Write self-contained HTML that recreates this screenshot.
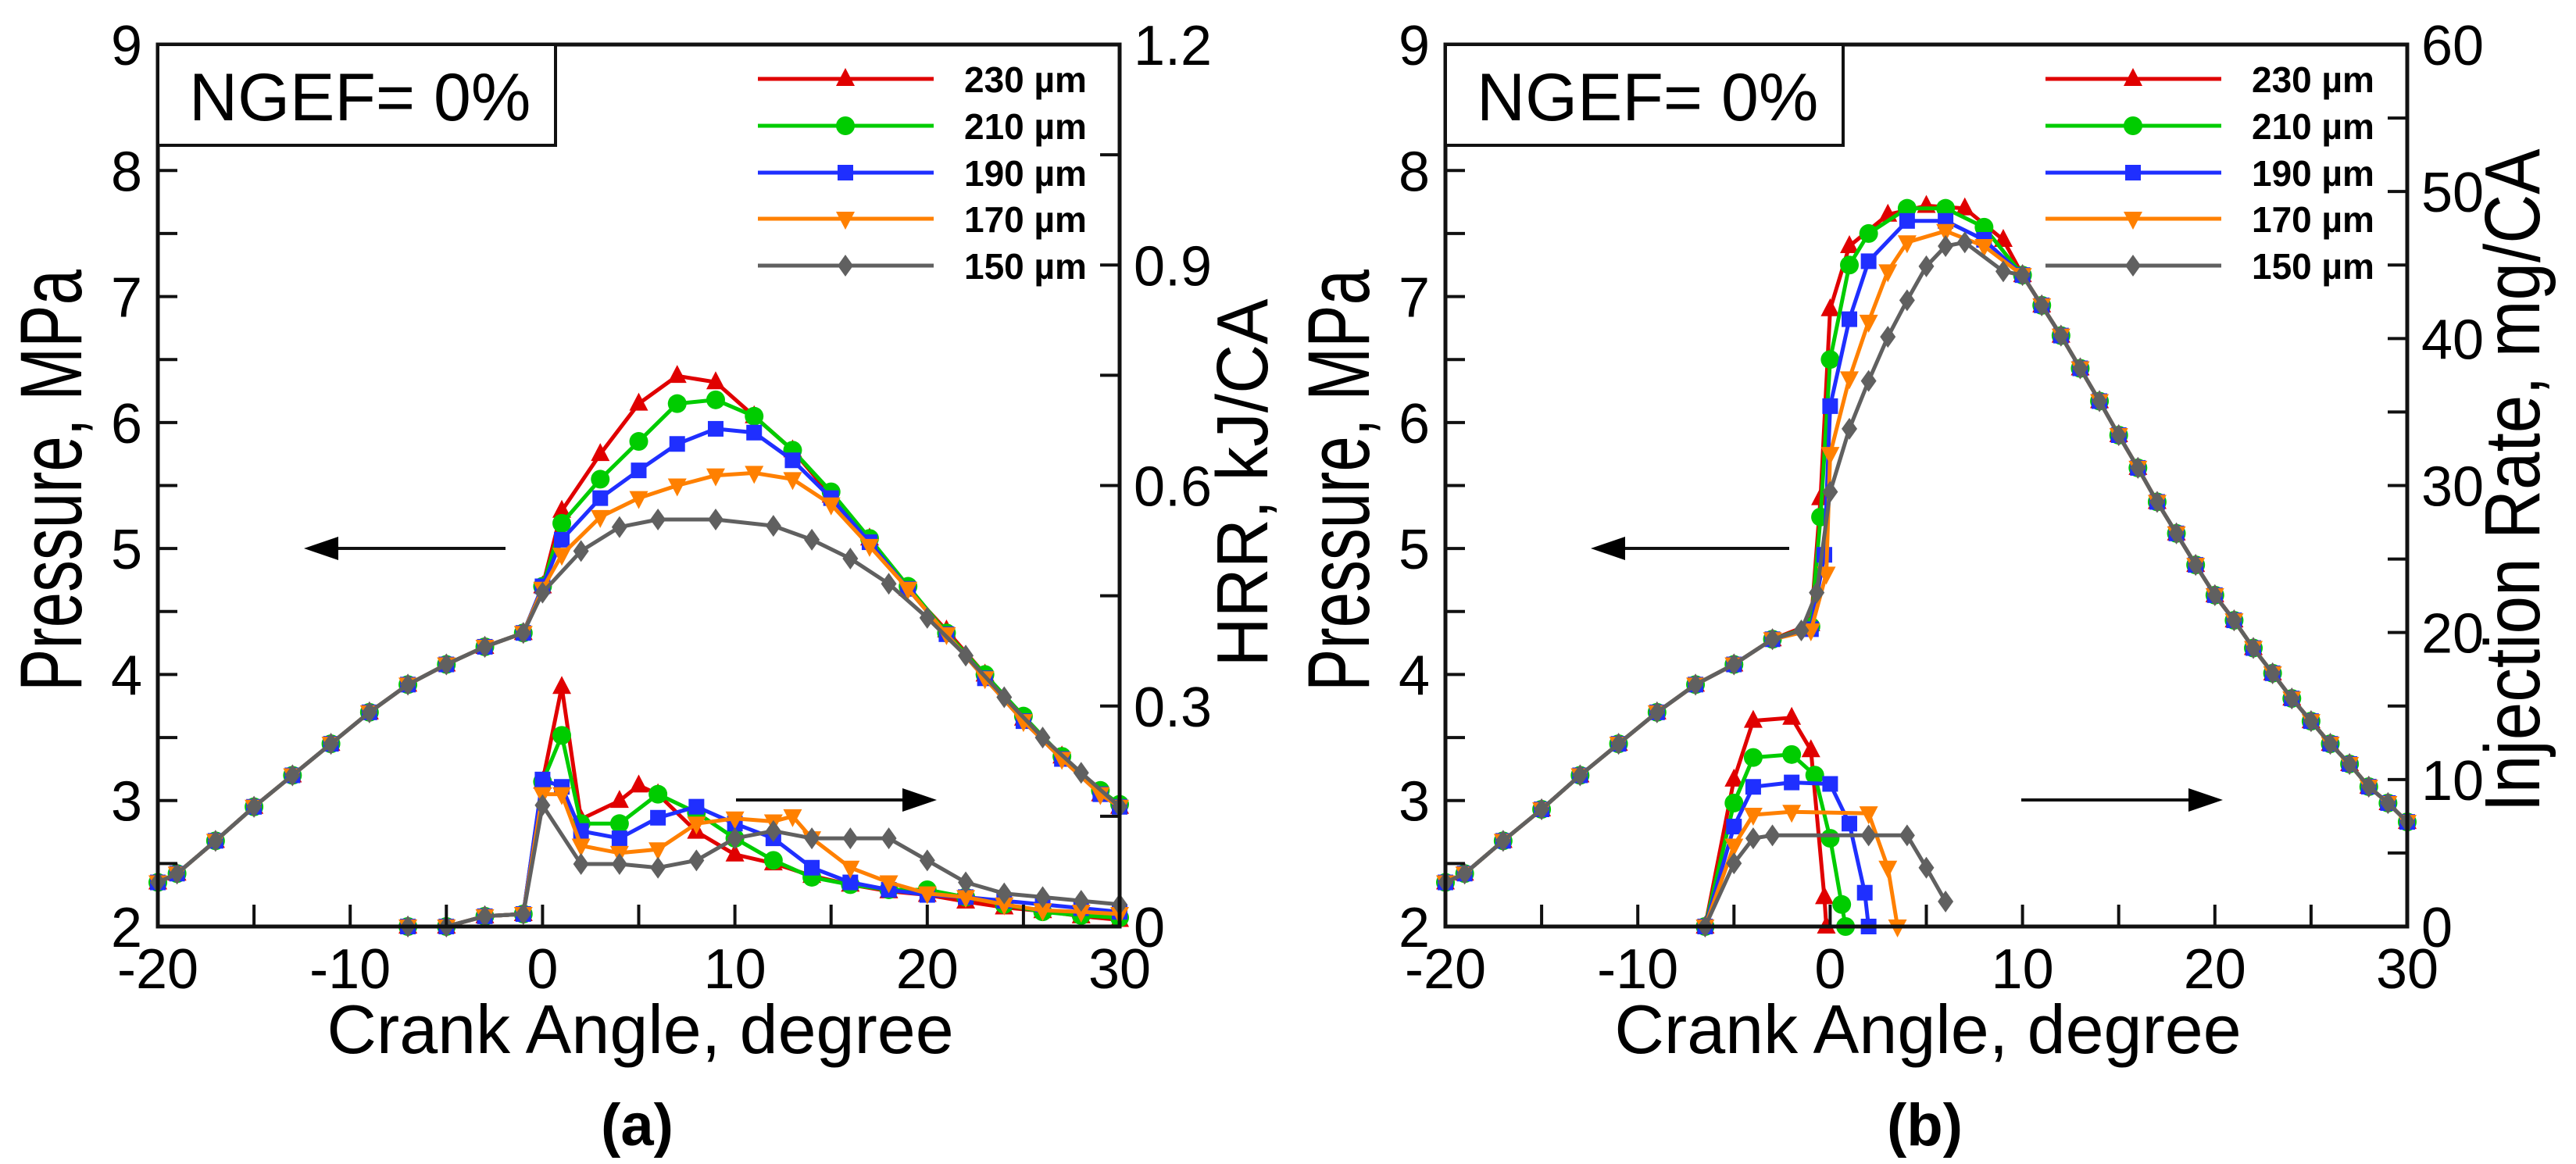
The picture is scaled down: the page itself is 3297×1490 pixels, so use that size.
<!DOCTYPE html>
<html><head><meta charset="utf-8"><style>
html,body{margin:0;padding:0;background:#fff;}
svg{display:block;font-family:"Liberation Sans",Arial,sans-serif;}
</style></head><body>
<svg id="fig" width="3297" height="1490" viewBox="0 0 3297 1490" xmlns="http://www.w3.org/2000/svg"></svg>
<script>
const xTicks=[-20,-10,0,10,20,30];
const pTicks=[2,3,4,5,6,7,8,9];
const hrrTicks=[0,0.3,0.6,0.9,1.2];
const injTicks=[0,10,20,30,40,50,60];
const seriesNames=["230 µm","210 µm","190 µm","170 µm","150 µm"];
const colors=["#e00000","#00cc00","#1f2fff","#ff8000","#606060"];
const markers=["tri","circle","square","tridown","diamond"];

// Panel (a) pressure
const aPreX=[-20,-19,-17,-15,-13,-11,-9,-7,-5,-3,-1];
const aPreY=[2.35,2.42,2.68,2.95,3.2,3.45,3.7,3.92,4.08,4.22,4.33];
const aP230x=[0,1,3,5,7,9,11,13,15,17,19,21,23,25,27,29,30];
const aP230y=[4.7,5.3,5.75,6.15,6.37,6.32,6.05,5.78,5.42,5.08,4.68,4.35,4.0,3.65,3.35,3.05,2.95];
const aP210x=[0,1,3,5,7,9,11,13,15,17,19,21,23,25,27,29,30];
const aP210y=[4.7,5.2,5.55,5.85,6.15,6.18,6.05,5.78,5.45,5.08,4.7,4.33,4.0,3.67,3.35,3.08,2.97];
const aP190x=[0,1,3,5,7,9,11,13,15,17,19,21,23,25,27,29,30];
const aP190y=[4.7,5.07,5.4,5.62,5.83,5.95,5.92,5.7,5.4,5.05,4.68,4.32,3.97,3.63,3.33,3.05,2.95];
const aP170x=[0,1,3,5,7,9,11,13,15,17,19,21,23,25,27,29,30];
const aP170y=[4.68,4.95,5.25,5.4,5.5,5.58,5.6,5.55,5.35,5.02,4.68,4.32,3.97,3.63,3.33,3.05,2.95];
const aP150x=[0,2,4,6,9,12,14,16,18,20,22,24,26,28,30];
const aP150y=[4.65,4.98,5.17,5.23,5.23,5.18,5.07,4.92,4.72,4.45,4.15,3.82,3.5,3.22,2.95];
// Panel (a) HRR kJ/CA
const hPreX=[-7,-5,-3,-1];
const hPreY=[0,0,0.014,0.017];
const h230x=[0,1,2,4,5,6,8,10,12,14,16,18,20,22,24,26,28,30];
const h230y=[0.197,0.326,0.146,0.171,0.192,0.180,0.129,0.098,0.086,0.069,0.057,0.048,0.043,0.034,0.026,0.021,0.014,0.009];
const h210x=[0,1,2,4,6,8,10,12,14,16,18,20,22,24,26,28,30];
const h210y=[0.197,0.26,0.14,0.14,0.18,0.155,0.12,0.09,0.067,0.057,0.05,0.05,0.04,0.03,0.02,0.015,0.012];
const h190x=[0,1,2,4,6,8,10,12,14,16,18,20,22,24,26,28,30];
const h190y=[0.2,0.19,0.13,0.12,0.148,0.163,0.14,0.12,0.08,0.06,0.05,0.043,0.04,0.035,0.03,0.025,0.02];
const h170x=[0,1,2,4,6,8,10,12,13,14,16,18,20,22,24,26,28,30];
const h170y=[0.18,0.18,0.11,0.10,0.105,0.14,0.147,0.143,0.15,0.12,0.08,0.06,0.045,0.04,0.03,0.022,0.02,0.017];
const h150x=[0,2,4,6,8,10,12,14,16,18,20,22,24,26,28,30];
const h150y=[0.165,0.085,0.085,0.08,0.09,0.12,0.13,0.12,0.12,0.12,0.09,0.06,0.045,0.04,0.035,0.03];

// Panel (b) pressure
const bPreX=[-20,-19,-17,-15,-13,-11,-9,-7,-5,-3];
const bPreY=[2.35,2.42,2.68,2.93,3.2,3.45,3.7,3.92,4.08,4.28];
const bTailX=[10,11,12,13,14,15,16,17,18,19,20,21,22,23,24,25,26,27,28,29,30];
const bTailY=[7.17,6.93,6.69,6.43,6.17,5.9,5.64,5.37,5.12,4.87,4.63,4.43,4.21,4.01,3.81,3.63,3.45,3.29,3.11,2.98,2.83];
const bP230x=[-1,-0.5,0,1,3,5,7,9];
const bP230y=[4.4,5.4,6.9,7.4,7.65,7.72,7.7,7.45];
const bP210x=[-1,-0.5,0,1,2,4,6,8];
const bP210y=[4.38,5.25,6.5,7.25,7.5,7.7,7.7,7.55];
const bP190x=[-1,-0.3,0,1,2,4,6,8];
const bP190y=[4.36,4.95,6.13,6.82,7.28,7.6,7.6,7.45];
const bP170x=[-1,-0.2,0,1,2,3,4,6,8];
const bP170y=[4.35,4.8,5.75,6.35,6.8,7.2,7.43,7.52,7.4];
const bP150x=[-1.5,-0.7,0,1,2,3,4,5,6,7,9];
const bP150y=[4.35,4.65,5.45,5.95,6.33,6.68,6.97,7.24,7.4,7.43,7.2];
// Panel (b) injection rate mg/CA
const i230x=[-6.5,-5,-4,-2,-1,-0.3,-0.2];
const i230y=[0,10,14,14.2,12,2,0];
const i210x=[-6.5,-5,-4,-2,-0.8,0,0.6,0.8];
const i210y=[0,8.4,11.5,11.7,10.3,6,1.5,0];
const i190x=[-6.5,-5,-4,-2,0,1,1.8,2];
const i190y=[0,6.8,9.5,9.8,9.7,7,2.3,0];
const i170x=[-6.5,-5,-4,-2,2,3,3.5];
const i170y=[0,5.5,7.6,7.8,7.7,4,0];
const i150x=[-6.5,-5,-4,-3,2,4,5,6];
const i150y=[0,4.3,6,6.2,6.2,6.2,4,1.7];

const NS="http://www.w3.org/2000/svg";
const svg=document.getElementById('fig');
function mk(tag,attrs,parent){const e=document.createElementNS(NS,tag);for(const k in attrs)e.setAttribute(k,attrs[k]);(parent||svg).appendChild(e);return e;}

function marker(g,type,cx,cy,color){
  let e;
  if(type==="circle") e=mk('circle',{cx:cx,cy:cy,r:12,fill:color},g);
  else if(type==="square") e=mk('rect',{x:cx-10,y:cy-10,width:20,height:20,fill:color},g);
  else if(type==="tri") e=mk('polygon',{points:`${cx},${cy-14} ${cx-12},${cy+9} ${cx+12},${cy+9}`,fill:color},g);
  else if(type==="tridown") e=mk('polygon',{points:`${cx},${cy+14} ${cx-12},${cy-9} ${cx+12},${cy-9}`,fill:color},g);
  else e=mk('polygon',{points:`${cx},${cy-14} ${cx-10},${cy} ${cx},${cy+14} ${cx+10},${cy}`,fill:color},g);
  
  
}

function panel(o){
  const x0=o.x0,x1=o.x1,yt=57,yb=1186;
  const X=v=>x0+(v+20)/50*(x1-x0);
  const YP=v=>yb-(v-2)/7*(yb-yt);
  const YR=v=>yb-v/o.rmax*(yb-yt);
  const g=mk('g',{});
  
  
  for(let i=0;i<5;i++){
    const sg=mk('g',{},g);
    
    
    const sets=[[o.pX[i],o.pY[i],YP],[o.rX[i],o.rY[i],YR]];
    for(const [xs,ys,F] of sets){
      const pts=xs.map((v,k)=>X(v).toFixed(1)+','+F(ys[k]).toFixed(1)).join(' ');
      const pl=mk('polyline',{points:pts,fill:'none',stroke:colors[i],'stroke-width':5,'stroke-linejoin':'round'},sg);
      
      
      xs.forEach((v,k)=>marker(sg,markers[i],X(v),F(ys[k]),colors[i]));
    }
  }
  const box=mk('rect',{x:x0,y:yt,width:x1-x0,height:yb-yt,fill:'none',stroke:'#111','stroke-width':5},g);
  
  
  for(let v=-15;v<30;v+=5){mk('line',{x1:X(v),x2:X(v),y1:yb,y2:yb-28,stroke:'#111','stroke-width':4},g);}
  xTicks.forEach(v=>{const t=mk('text',{x:X(v),y:1265,'font-size':72,'text-anchor':'middle',fill:'#000'},g);t.textContent=v;
    
    });
  for(let p=2.5;p<9;p+=0.5){mk('line',{x1:x0,x2:x0+25,y1:YP(p),y2:YP(p),stroke:'#111','stroke-width':4},g);}
  pTicks.forEach(v=>{const t=mk('text',{x:x0-20,y:YP(v)+26,'font-size':72,'text-anchor':'end',fill:'#000'},g);t.textContent=v;
    
    });
  for(let r=o.rminor;r<o.rmax-1e-6;r+=o.rminor){mk('line',{x1:x1,x2:x1-25,y1:YR(r),y2:YR(r),stroke:'#111','stroke-width':4},g);}
  o.rTicks.forEach(v=>{const t=mk('text',{x:x1+18,y:YR(v)+26,'font-size':72,'text-anchor':'start',fill:'#000'},g);t.textContent=o.fmt(v);
    
    });
  const nb=mk('rect',{x:x0,y:yt,width:509,height:129,fill:'#fff',stroke:'#111','stroke-width':4},g);
  
  
  const nt=mk('text',{x:x0+40,y:yt+97,'font-size':86,fill:'#000'},g);nt.textContent='NGEF= 0%';
  
  
  const lg=mk('g',{},g);
  
  
  const rows=[101,161,221,280,340];
  for(let i=0;i<5;i++){
    const le=mk('g',{},lg);
    
    
    mk('line',{x1:x0+768,x2:x0+993,y1:rows[i],y2:rows[i],stroke:colors[i],'stroke-width':5},le);
    marker(le,markers[i],x0+880,rows[i],colors[i]);
    const t=mk('text',{x:x0+1032,y:rows[i]+17,'font-size':46,'font-weight':'bold',fill:'#000'},le);t.textContent=seriesNames[i];
  }
  const arr=(xa,xb,y,nm)=>{const a=mk('g',{},g);
    const d=xb<xa?-1:1;
    mk('line',{x1:xa,x2:xb-d*30,y1:y,y2:y,stroke:'#111','stroke-width':4},a);
    mk('polygon',{points:`${xb},${y} ${xb-d*44},${y-15} ${xb-d*44},${y+15}`,fill:'#000'},a);};
  arr(x0+o.la[0],x0+o.la[1],702,'left-axis-arrow');
  arr(x0+o.ra[0],x0+o.ra[1],1024,'right-axis-arrow');
  const yl=mk('text',{transform:`translate(${x0-98},615) rotate(-90)`,'font-size':112,'text-anchor':'middle',textLength:540,lengthAdjust:'spacingAndGlyphs',fill:'#000'},g);yl.textContent='Pressure, MPa';
  
  
  const rl=mk('text',{transform:`translate(${x1+o.rlx},${o.rly}) rotate(-90)`,'font-size':o.rfs,'text-anchor':'middle',textLength:o.rlen,lengthAdjust:'spacingAndGlyphs',fill:'#000'},g);rl.textContent=o.rlabel;
  
  
  const xl=mk('text',{x:(x0+x1)/2+2,y:1348,'font-size':88,'text-anchor':'middle',fill:'#000'},g);xl.textContent='Crank Angle, degree';
  
  
  const pl=mk('text',{x:(x0+x1)/2-2,y:1466,'font-size':76,'font-weight':'bold','text-anchor':'middle',fill:'#000'},g);pl.textContent=o.tag;
  
  
}

panel({name:'panel-a',x0:202,x1:1433,rmax:1.2,rminor:0.15,rTicks:hrrTicks,fmt:v=>v===0?'0':v.toFixed(1),
  pX:[aPreX.concat(aP230x),aPreX.concat(aP210x),aPreX.concat(aP190x),aPreX.concat(aP170x),aPreX.concat(aP150x)],
  pY:[aPreY.concat(aP230y),aPreY.concat(aP210y),aPreY.concat(aP190y),aPreY.concat(aP170y),aPreY.concat(aP150y)],
  rX:[hPreX.concat(h230x),hPreX.concat(h210x),hPreX.concat(h190x),hPreX.concat(h170x),hPreX.concat(h150x)],
  rY:[hPreY.concat(h230y),hPreY.concat(h210y),hPreY.concat(h190y),hPreY.concat(h170y),hPreY.concat(h150y)],
  la:[445,187],ra:[740,997],rlabel:'HRR, kJ/CA',rlx:189,rly:618,rfs:93,rlen:471,tag:'(a)'});
panel({name:'panel-b',x0:1850,x1:3081,rmax:60,rminor:5,rTicks:injTicks,fmt:v=>String(v),
  pX:[bPreX.concat(bP230x,bTailX),bPreX.concat(bP210x,bTailX),bPreX.concat(bP190x,bTailX),bPreX.concat(bP170x,bTailX),bPreX.concat(bP150x,bTailX)],
  pY:[bPreY.concat(bP230y,bTailY),bPreY.concat(bP210y,bTailY),bPreY.concat(bP190y,bTailY),bPreY.concat(bP170y,bTailY),bPreY.concat(bP150y,bTailY)],
  rX:[i230x,i210x,i190x,i170x,i150x],
  rY:[i230y,i210y,i190y,i170y,i150y],
  la:[440,186],ra:[737,995],rlabel:'Injection Rate, mg/CA',rlx:169,rly:615,rfs:100,rlen:849,tag:'(b)'});
</script>
</body></html>
